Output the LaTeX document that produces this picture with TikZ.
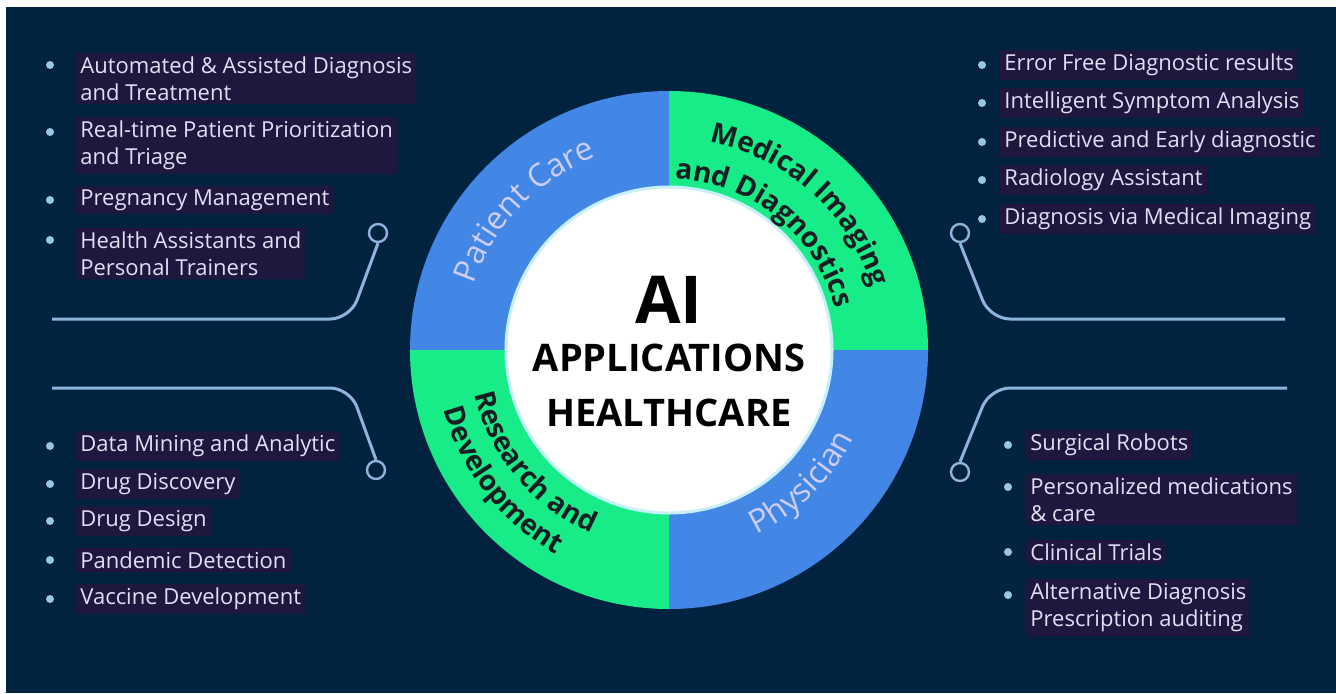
\documentclass[tikz,border=0pt]{standalone}
\usepackage{fontspec}
\setmainfont{Open Sans}
\usetikzlibrary{positioning,decorations.text}
\definecolor{navy}{RGB}{1,35,64}
\definecolor{ringblue}{RGB}{66,134,230}
\definecolor{ringgreen}{RGB}{24,236,136}
\definecolor{wire}{RGB}{140,180,220}
\definecolor{itemtext}{RGB}{225,222,245}
\definecolor{hlbox}{RGB}{30,24,62}
\definecolor{dotblue}{RGB}{150,200,225}
\definecolor{ringlight}{RGB}{205,205,245}
\definecolor{ringdark}{RGB}{20,30,35}
\tikzset{
  item/.style={anchor=west,text=itemtext,fill=hlbox,inner sep=2pt,align=left,
    font=\fontsize{11}{13.5}\selectfont},
  dot/.style={circle,fill=dotblue,inner sep=0pt,minimum size=4pt},
  hub/.style={circle,draw=wire,fill=navy,line width=1.2pt,inner sep=0pt,minimum size=9pt},
  wire/.style={draw=wire,line width=1.5pt,rounded corners=10pt},
  title/.style={text=black,font=\bfseries\fontsize{19}{19}\selectfont}
}
\begin{document}
\begin{tikzpicture}[x=0.5pt,y=0.5pt]
  \useasboundingbox (0,0) rectangle (1336,693);
  \fill[white] (0,0) rectangle (1336,693);
  \fill[navy] (6,0) rectangle (1336,686);

  % ring and centre
  \begin{scope}[shift={(669,343)}]
    \fill[ringgreen] (0,0) -- (0:259) arc (0:90:259) -- cycle;
    \fill[ringblue] (0,0) -- (90:259) arc (90:180:259) -- cycle;
    \fill[ringgreen] (0,0) -- (180:259) arc (180:270:259) -- cycle;
    \fill[ringblue] (0,0) -- (270:259) arc (270:360:259) -- cycle;
    \fill[white,draw={rgb,255:red,200;green,240;blue,250},line width=1.5pt] (0,0) circle (163);

    \path[decorate,decoration={text along path,text align=center,
      text={|\color{ringlight}\fontsize{16}{16}\selectfont|Patient Care}}]
      (180:206) arc (180:92:206);
    \path[decorate,decoration={text along path,text align=center,
      text={|\color{ringdark}\bfseries\fontsize{14}{14}\selectfont|Medical Imaging}}]
      (100:212) arc (100:-4:212);
    \path[decorate,decoration={text along path,text align=center,
      text={|\color{ringdark}\bfseries\fontsize{14}{14}\selectfont|and Diagnostics}}]
      (105:171) arc (105:-3:171);
    \path[decorate,decoration={text along path,text align=center,
      text={|\color{ringlight}\fontsize{16}{16}\selectfont|Physician}}]
      (-92:204) arc (-92:2:204);
    \path[decorate,decoration={text along path,text align=center,
      text={|\color{ringdark}\bfseries\fontsize{14}{14}\selectfont|Research and}}]
      (175:199) arc (175:265:199);
    \path[decorate,decoration={text along path,text align=center,
      text={|\color{ringdark}\bfseries\fontsize{14}{14}\selectfont|Development}}]
      (173:233) arc (173:263:233);

    \node[title,font=\bfseries\fontsize{33}{33}\selectfont] (ai) at (0,50) {AI};
    \node[title,node distance=29pt] (apps) [below of=ai] {APPLICATIONS};
    \node[title,node distance=27.5pt] (care) [below of=apps] {HEALTHCARE};
  \end{scope}

  % left top
  \node[item] (lt1) at (76,614.5) {Automated \& Assisted Diagnosis\\and Treatment};
  \node[item] (lt2) at (76,548) {Real-time Patient Prioritization\\and Triage};
  \node[item] (lt3) at (76,493) {Pregnancy Management};
  \node[item] (lt4) at (76,439.5) {Health Assistants and\\Personal Trainers};
  \node[dot] (ltd1) at (50,628) {};
  \node[dot] (ltd2) at (50,561) {};
  \node[dot] (ltd3) at (50,493) {};
  \node[dot] (ltd4) at (50,453) {};

  % left bottom
  \node[item] (lb1) at (76,247) {Data Mining and Analytic};
  \node[item] (lb2) at (76,209) {Drug Discovery};
  \node[item] (lb3) at (76,172) {Drug Design};
  \node[item] (lb4) at (76,133) {Pandemic Detection};
  \node[item] (lb5) at (76,94) {Vaccine Development};
  \foreach \n/\y in {1/247,2/209,3/172,4/133,5/94}
    \node[dot] (lbd\n) at (50,\y) {};

  % right top
  \node[item] (rt1) at (1000,628) {Error Free Diagnostic results};
  \node[item] (rt2) at (1000,590) {Intelligent Symptom Analysis};
  \node[item] (rt3) at (1000,551) {Predictive and Early diagnostic};
  \node[item] (rt4) at (1000,513) {Radiology Assistant};
  \node[item] (rt5) at (1000,474) {Diagnosis via Medical Imaging};
  \foreach \n/\y in {1/628,2/590,3/551,4/513,5/474}
    \node[dot] (rtd\n) at (982,\y) {};

  % right bottom
  \node[item] (rb1) at (1026,248) {Surgical Robots};
  \node[item] (rb2) at (1026,193.5) {Personalized medications\\\& care};
  \node[item] (rb3) at (1026,141) {Clinical Trials};
  \node[item] (rb4) at (1026,85.5) {Alternative Diagnosis\\Prescription auditing};
  \node[dot] (rbd1) at (1008,248) {};
  \node[dot] (rbd2) at (1008,206) {};
  \node[dot] (rbd3) at (1008,141) {};
  \node[dot] (rbd4) at (1008,98) {};

  % connectors
  \node[hub] (hlt) at (378,460) {};
  \node[hub] (hlb) at (376,223) {};
  \node[hub] (hrt) at (960,460) {};
  \node[hub] (hrb) at (960,221) {};
  \coordinate (elt) at (52,374);
  \coordinate (elb) at (52,305);
  \coordinate (ert) at (1285,374);
  \coordinate (erb) at (1287,305);
  \draw[wire] (hlt.south) -- (350,374) -- (elt);
  \draw[wire] (hlb.north) -- (350,305) -- (elb);
  \draw[wire] (hrt.south) -- (990,374) -- (ert);
  \draw[wire] (hrb.north) -- (990,305) -- (erb);
\end{tikzpicture}
\end{document}
